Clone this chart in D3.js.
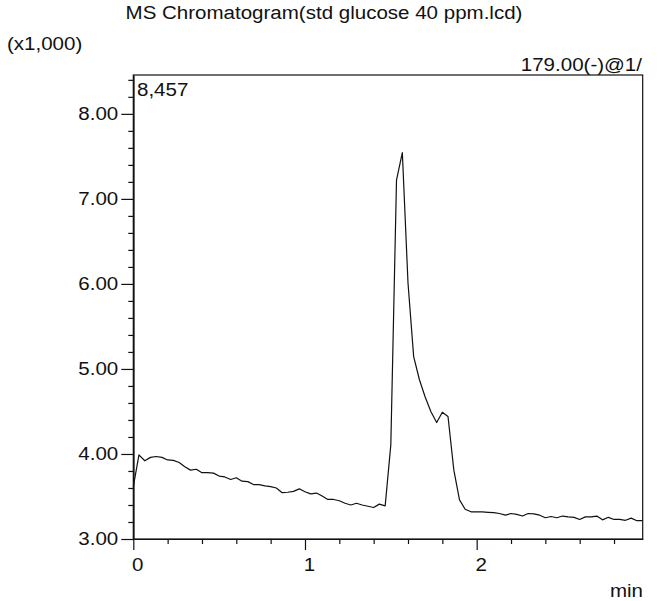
<!DOCTYPE html>
<html><head><meta charset="utf-8">
<script src="https://cdn.jsdelivr.net/npm/d3@7"></script>
<style>
body{margin:0;background:#fff}
text{font-family:"Liberation Sans",Arial,Helvetica,sans-serif;fill:#111}
</style>
</head><body><svg id="c" width="658" height="601"></svg>
<script>
// retention time (min), one scan every 2 s
const times=[0.000,0.033,0.067,0.100,0.133,0.167,0.200,0.233,0.267,0.300,
0.333,0.367,0.400,0.433,0.467,0.500,0.533,0.567,0.600,0.633,
0.667,0.700,0.733,0.767,0.800,0.833,0.867,0.900,0.933,0.967,
1.000,1.033,1.067,1.100,1.133,1.167,1.200,1.233,1.267,1.300,
1.333,1.367,1.400,1.433,1.467,1.500,1.533,1.567,1.600,1.633,
1.667,1.700,1.733,1.767,1.800,1.833,1.867,1.900,1.933,1.967,
2.000,2.033,2.067,2.100,2.133,2.167,2.200,2.233,2.267,2.300,
2.333,2.367,2.400,2.433,2.467,2.500,2.533,2.567,2.600,2.633,
2.667,2.700,2.733,2.767,2.800,2.833,2.867,2.900,2.933,2.967];
// intensity (x1,000)
const intensity=[3.615,3.99,3.92,3.96,3.97,3.96,3.93,3.925,3.90,3.85,
3.81,3.82,3.78,3.78,3.775,3.74,3.73,3.70,3.72,3.68,
3.675,3.64,3.64,3.625,3.615,3.60,3.545,3.55,3.56,3.59,
3.555,3.53,3.54,3.505,3.465,3.465,3.45,3.42,3.40,3.42,
3.40,3.385,3.37,3.41,3.39,4.11,7.22,7.545,6.01,5.145,
4.87,4.67,4.50,4.37,4.49,4.44,3.81,3.46,3.35,3.32,
3.32,3.318,3.314,3.31,3.30,3.28,3.30,3.29,3.27,3.30,
3.295,3.28,3.25,3.265,3.25,3.27,3.26,3.255,3.23,3.26,
3.26,3.27,3.225,3.255,3.23,3.23,3.22,3.245,3.215,3.215];
const yMajor=[3,4,5,6,7,8];
const yMinor=[3.2,3.4,3.6,3.8,4.2,4.4,4.6,4.8,5.2,5.4,5.6,5.8,6.2,6.4,6.6,6.8,7.2,7.4,7.6,7.8,8.2,8.4];
const xMajor=[0,1,2];
const xMinor=[0.2,0.4,0.6,0.8,1.2,1.4,1.6,1.8,2.2,2.4,2.6,2.8];
const xDomain=[0,2.967];
const yDomain=[3.0,8.457];
const titleText="MS Chromatogram(std glucose 40 ppm.lcd)";
const scaleText="(x1,000)";
const channelText="179.00(-)@1/";
const maxText="8,457";
const xUnit="min";

const FS=18, SX=1.14;
const L=133.3,R=642.7,T=75,B=539;
const svg=d3.select("#c");
const x=d3.scaleLinear().domain(xDomain).range([L,R]);
const y=d3.scaleLinear().domain(yDomain).range([B,T]);

function stretch(sel){
  sel.each(function(){
    const n=this; const len=n.getComputedTextLength();
    if(len>0){n.setAttribute("textLength",len*SX);n.setAttribute("lengthAdjust","spacingAndGlyphs");}
  });
}

// frame
svg.append("rect").attr("x",L).attr("y",T).attr("width",R-L).attr("height",B-T)
  .attr("fill","none").attr("stroke","#111").attr("stroke-width",1.2);

// axes
const styleAxis=g=>{g.selectAll("path,line").attr("stroke","#111").attr("stroke-width",1.2);
  g.selectAll("text").attr("font-size",FS).attr("font-family",'"Liberation Sans",Arial,sans-serif').attr("fill","#111");};
const gy1=svg.append("g").attr("transform",`translate(${L},0)`)
  .call(d3.axisLeft(y).tickValues(yMajor).tickSize(12).tickSizeOuter(0).tickPadding(3).tickFormat(d3.format(".2f")));
const gy2=svg.append("g").attr("transform",`translate(${L},0)`)
  .call(d3.axisLeft(y).tickValues(yMinor).tickSize(5).tickSizeOuter(0).tickFormat(""));
const gx1=svg.append("g").attr("transform",`translate(0,${B})`)
  .call(d3.axisBottom(x).tickValues(xMajor).tickSize(11).tickSizeOuter(0).tickPadding(8).tickFormat(d3.format("d")));
const gx2=svg.append("g").attr("transform",`translate(0,${B})`)
  .call(d3.axisBottom(x).tickValues(xMinor).tickSize(5).tickSizeOuter(0).tickFormat(""));
[gy1,gy2,gx1,gx2].forEach(styleAxis);
stretch(gy1.selectAll("text")); stretch(gx1.selectAll("text"));
gx1.selectAll("text").attr("dx",4);

// trace
svg.append("path").datum(times.map((t,i)=>[t,intensity[i]]))
  .attr("fill","none").attr("stroke","#111").attr("stroke-width",1.2).attr("stroke-linejoin","round")
  .attr("d",d3.line().x(d=>x(d[0])).y(d=>y(d[1])));

// labels
const lab=(t,xx,yy,anchor)=>svg.append("text").attr("x",xx).attr("y",yy).attr("text-anchor",anchor)
  .attr("font-size",FS).text(t).call(stretch);
lab(titleText,324,19,"middle");
lab(scaleText,7,50,"start");
lab(channelText,642,71,"end");
lab(maxText,137,96,"start");
lab(xUnit,643,597,"end");
</script></body></html>
